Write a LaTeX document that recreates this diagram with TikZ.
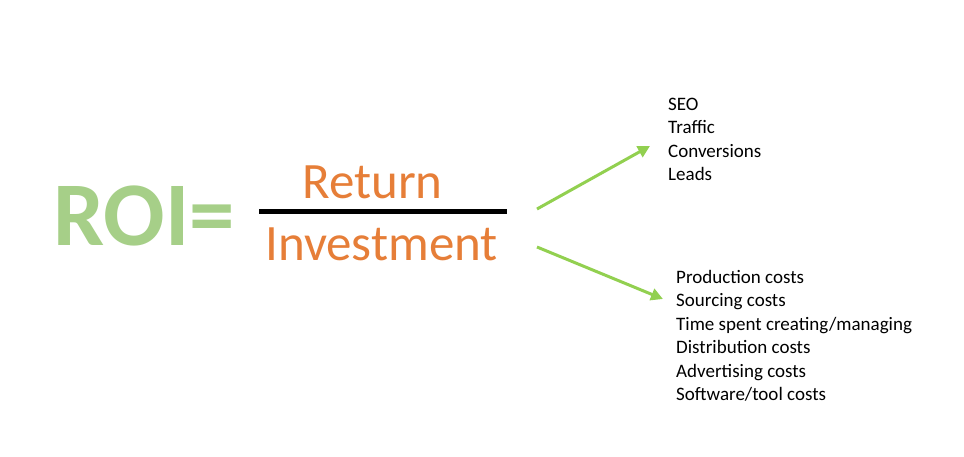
\documentclass[tikz,border=0pt]{standalone}
\usepackage{fontspec}
\setmainfont{Carlito}
\usetikzlibrary{arrows.meta}
\definecolor{roigreen}{RGB}{166,207,136}
\definecolor{arrowgreen}{RGB}{146,208,80}
\definecolor{fracorange}{RGB}{230,126,56}
\begin{document}
\begin{tikzpicture}[x=1pt, y=-1pt,
    big/.style={inner sep=0pt, anchor=base west, font=\fontsize{91}{91}\selectfont\bfseries, text=roigreen},
    term/.style={inner sep=0pt, anchor=base west, font=\fontsize{51}{51}\selectfont, text=fracorange},
    items/.style={inner sep=0pt, anchor=north west, align=left, font=\fontsize{19}{23.4}\selectfont},
    pointer/.style={arrowgreen, line width=3pt, -{Triangle[length=12pt, width=12pt]}}]
    \useasboundingbox (0,0) rectangle (964,456);
    \node[big] (roi) at (53,245) {ROI=};
    \draw[line width=5pt] (259,211) -- (507,211);
    \node[term] (ret) at (302,198) {Return};
    \node[term] (inv) at (265,260) {Investment};
    \node[items] (gains) at (668,98) {SEO\\Traffic\\Conversions\\Leads};
    \node[items] (costs) at (676,270) {Production costs\\Sourcing costs\\Time spent creating/managing\\Distribution costs\\Advertising costs\\Software/tool costs};
    \coordinate (up0) at (537,209);
    \coordinate (up1) at (650,146);
    \coordinate (dn0) at (537,247);
    \coordinate (dn1) at (663,299);
    \draw[pointer] (up0) -- (up1);
    \draw[pointer] (dn0) -- (dn1);
\end{tikzpicture}
\end{document}
